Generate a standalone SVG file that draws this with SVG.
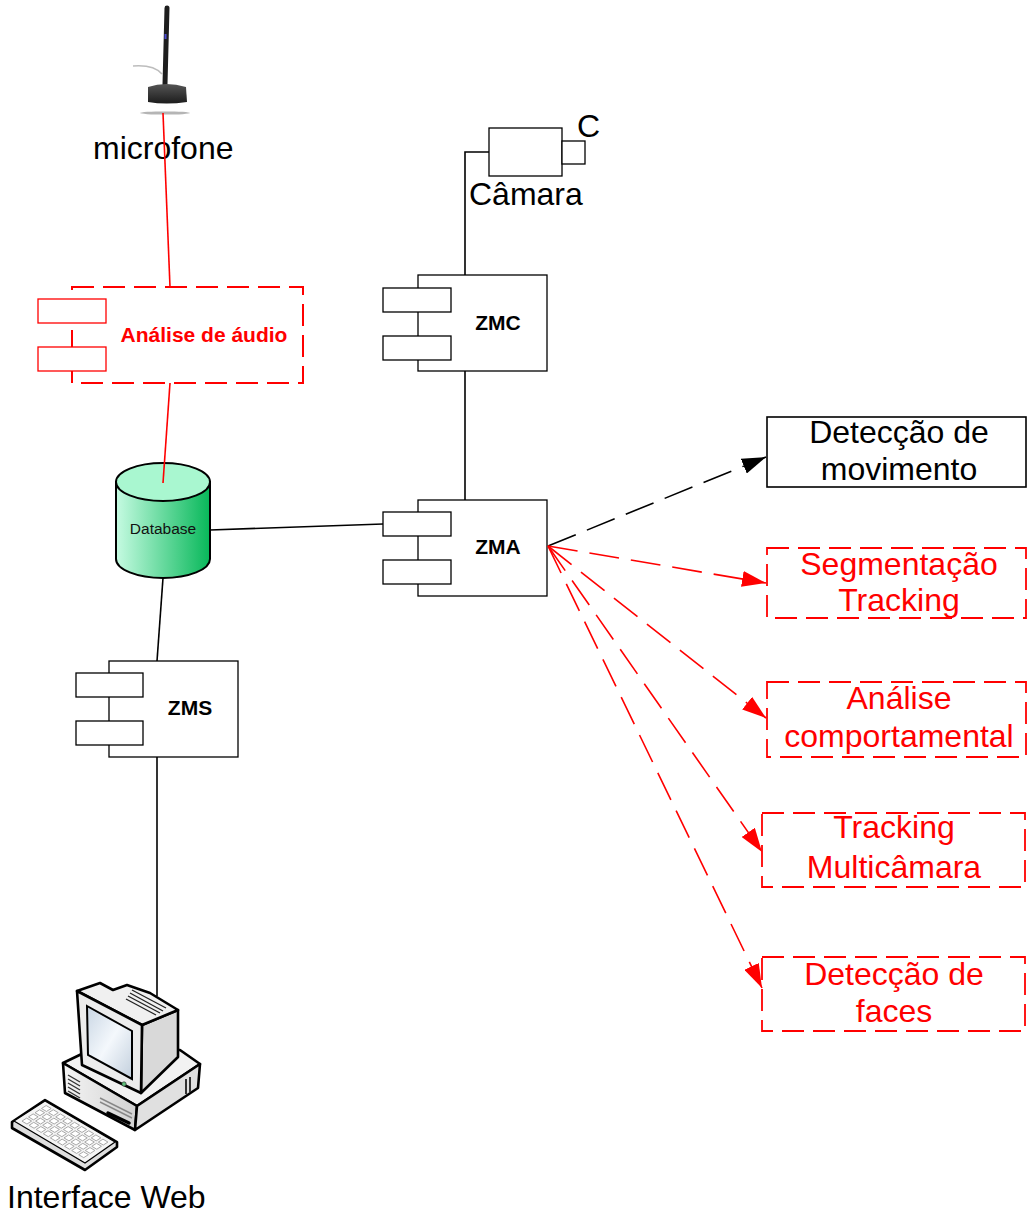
<svg xmlns="http://www.w3.org/2000/svg" width="1027" height="1216" viewBox="0 0 1027 1216">
  <style>
    .comp { fill: #ffffff; stroke: #000000; stroke-width: 1.3; }
    .comp-red { fill: #ffffff; stroke: #ff0000; stroke-width: 1.3; }
    .comp-red-main { fill: #ffffff; stroke: #ff0000; stroke-width: 2; stroke-dasharray: 22 9; }
    .tag { font-family: "Liberation Sans", Arial, sans-serif; font-weight: bold; font-size: 21px; text-anchor: middle; fill: #000000; }
    .big { font-family: "Liberation Sans", Arial, sans-serif; font-size: 32px; fill: #000000; }
    .mid { text-anchor: middle; }
    .red { fill: #ff0000; }
    .task { fill: #ffffff; stroke: #000000; stroke-width: 1.6; }
    .task-red { fill: none; stroke: #ff0000; stroke-width: 1.8; stroke-dasharray: 22 9; }
    .wire { fill: none; stroke: #000000; stroke-width: 1.6; }
    .wire-red { fill: none; stroke: #ff0000; stroke-width: 1.6; }
    .flow { fill: none; stroke: #000000; stroke-width: 1.6; stroke-dasharray: 30 12; }
    .flow-red { fill: none; stroke: #ff0000; stroke-width: 1.6; stroke-dasharray: 30 12; }
    .pc { stroke: #000000; stroke-width: 2.6; stroke-linejoin: round; }
    .key { fill: #ffffff; stroke: #a8a8a8; stroke-width: 1; }
  </style>
  <defs>
    <marker id="ah-black" viewBox="0 0 24 16" refX="24" refY="8" markerWidth="24" markerHeight="16" markerUnits="userSpaceOnUse" orient="auto">
      <path d="M0,0 L24,8 L0,16 z" fill="#000000"/>
    </marker>
    <marker id="ah-red" viewBox="0 0 24 16" refX="24" refY="8" markerWidth="24" markerHeight="16" markerUnits="userSpaceOnUse" orient="auto">
      <path d="M0,0 L24,8 L0,16 z" fill="#ff0000"/>
    </marker>
    <linearGradient id="dbBody" x1="0" y1="0" x2="1" y2="0">
      <stop offset="0" stop-color="#c6fbe2"/>
      <stop offset="1" stop-color="#08b85a"/>
    </linearGradient>
    <linearGradient id="screen" x1="0" y1="0" x2="1" y2="1">
      <stop offset="0" stop-color="#c9d6e4"/>
      <stop offset="0.5" stop-color="#f4f8fc"/>
      <stop offset="1" stop-color="#c2cfdd"/>
    </linearGradient>
    <linearGradient id="case" x1="0" y1="0" x2="1" y2="0">
      <stop offset="0" stop-color="#f4f4f4"/>
      <stop offset="1" stop-color="#d2d2d2"/>
    </linearGradient>
    <linearGradient id="micBase" x1="0" y1="0" x2="0" y2="1">
      <stop offset="0" stop-color="#555555"/>
      <stop offset="1" stop-color="#1c1c1c"/>
    </linearGradient>
    <rect id="kb-key" class="key" width="7" height="15" vector-effect="non-scaling-stroke"/>
  </defs>

  <!-- microphone -->
  <g id="microfone">
    <path d="M133,66 C146,65 156,67 162,74" fill="none" stroke="#bdbdbd" stroke-width="1.5"/>
    <line x1="167" y1="8" x2="165" y2="84" stroke="#1e1e1e" stroke-width="5" stroke-linecap="round"/>
    <rect x="164.5" y="34" width="2" height="5" fill="#4a4ad0"/>
    <path d="M148,87 Q166,81 186,87 L187,102 Q166,105 148,102 Z" fill="url(#micBase)"/>
    <ellipse cx="165" cy="113" rx="25" ry="1.6" fill="#b5b5b5"/>
    <text class="big" x="93" y="159">microfone</text>
  </g>

  <!-- camera -->
  <g id="camara">
    <rect class="comp" x="489" y="128" width="73" height="48"/>
    <rect class="comp" x="562" y="141" width="23" height="23"/>
    <text class="big" x="577" y="137">C</text>
    <text class="big" x="469" y="205">Câmara</text>
  </g>

  <!-- audio analysis component -->
  <g id="analise-audio">
    <rect class="comp-red-main" x="72" y="287" width="231" height="96"/>
    <rect class="comp-red" x="38" y="299" width="68" height="24"/>
    <rect class="comp-red" x="38" y="347" width="68" height="24"/>
    <text class="tag red" x="204" y="342" font-size="22">Análise de áudio</text>
  </g>

  <!-- ZMC component -->
  <g id="zmc">
    <rect class="comp" x="418" y="275" width="129" height="96"/>
    <rect class="comp" x="383" y="288" width="68" height="24"/>
    <rect class="comp" x="383" y="336" width="68" height="24"/>
    <text class="tag" x="498" y="330">ZMC</text>
  </g>

  <!-- ZMA component -->
  <g id="zma">
    <rect class="comp" x="418" y="500" width="129" height="96"/>
    <rect class="comp" x="383" y="512" width="68" height="24"/>
    <rect class="comp" x="383" y="560" width="68" height="24"/>
    <text class="tag" x="498" y="554">ZMA</text>
  </g>

  <!-- database -->
  <g id="database">
    <path d="M116,482 L116,559 A47,19 0 0 0 210,559 L210,482 Z" fill="url(#dbBody)" stroke="#000000" stroke-width="2"/>
    <ellipse cx="163" cy="482" rx="47" ry="19" fill="#a9f7d0" stroke="#000000" stroke-width="2"/>
    <text x="163" y="534" font-family="Liberation Sans, Arial, sans-serif" font-size="15.5" text-anchor="middle" fill="#111111">Database</text>
  </g>

  <!-- ZMS component -->
  <g id="zms">
    <rect class="comp" x="109" y="661" width="129" height="96"/>
    <rect class="comp" x="76" y="673" width="67" height="24"/>
    <rect class="comp" x="76" y="721" width="67" height="24"/>
    <text class="tag" x="190" y="715">ZMS</text>
  </g>

  <!-- web client workstation -->
  <g id="interface-web">
    <!-- base unit -->
    <polygon class="pc" points="63,1063 92,1049 180,1050 200,1064 137,1106" fill="#f2f2f2"/>
    <polygon class="pc" points="63,1063 137,1106 135,1130 65,1093" fill="url(#case)"/>
    <polygon class="pc" points="137,1106 200,1064 198,1088 135,1130" fill="#e0e0e0"/>
    <g stroke="#333333" stroke-width="1.4">
      <line x1="68" y1="1075" x2="80" y2="1082"/>
      <line x1="68" y1="1079" x2="80" y2="1086"/>
      <line x1="68" y1="1083" x2="80" y2="1090"/>
      <line x1="68" y1="1087" x2="80" y2="1094"/>
      <line x1="68" y1="1091" x2="80" y2="1098"/>
      <line x1="100" y1="1098" x2="132" y2="1114" stroke="#888888"/>
      <line x1="100" y1="1102" x2="132" y2="1118" stroke="#888888"/>
      <line x1="186" y1="1079" x2="186" y2="1094" stroke-width="2"/>
      <line x1="190" y1="1077" x2="190" y2="1092" stroke-width="2"/>
    </g>
    <line x1="108" y1="1113" x2="129" y2="1123" stroke="#000000" stroke-width="3.5" stroke-linecap="round"/>
    <!-- monitor -->
    <polygon class="pc" points="142,1025 178,1010 178,1057 141,1093" fill="#d9d9d9"/>
    <polygon class="pc" points="77,991 100,983 113,990 127,985 150,993 178,1010 142,1025" fill="#f0f0f0"/>
    <polygon class="pc" points="77,991 142,1025 141,1093 82,1065" fill="#ececec"/>
    <polygon points="87,1006 132,1031 132,1079 88,1055" fill="url(#screen)" stroke="#000000" stroke-width="2"/>
    <circle cx="124" cy="1084" r="2.2" fill="#5fc07a" stroke="#222222" stroke-width="0.6"/>
    <g stroke="#222222" stroke-width="1.3">
      <line x1="132" y1="990" x2="166" y2="1008"/>
      <line x1="130" y1="993" x2="163" y2="1011"/>
      <line x1="128" y1="996" x2="160" y2="1013"/>
      <line x1="126" y1="999" x2="156" y2="1015"/>
    </g>
    <!-- keyboard -->
    <polygon class="pc" points="12,1122 45,1100 117,1142 117,1147 85,1170 12,1128" fill="#dedede"/>
    <polygon points="14,1121 45,1101 115,1142 85,1163" fill="#f5f5f5" stroke="#000000" stroke-width="1.2"/>
    <g transform="matrix(0.71 0.42 0.31 -0.2 14 1121)">
      <use href="#kb-key" x="6" y="12"/><use href="#kb-key" x="16" y="12"/><use href="#kb-key" x="26" y="12"/>
      <use href="#kb-key" x="36" y="12"/><use href="#kb-key" x="46" y="12"/><use href="#kb-key" x="56" y="12"/>
      <use href="#kb-key" x="66" y="12"/><use href="#kb-key" x="76" y="12"/><use href="#kb-key" x="86" y="12"/>
      <use href="#kb-key" x="6" y="33"/><use href="#kb-key" x="16" y="33"/><use href="#kb-key" x="26" y="33"/>
      <use href="#kb-key" x="36" y="33"/><use href="#kb-key" x="46" y="33"/><use href="#kb-key" x="56" y="33"/>
      <use href="#kb-key" x="66" y="33"/><use href="#kb-key" x="76" y="33"/><use href="#kb-key" x="86" y="33"/>
      <use href="#kb-key" x="6" y="54"/><use href="#kb-key" x="16" y="54"/><use href="#kb-key" x="26" y="54"/>
      <use href="#kb-key" x="36" y="54"/><use href="#kb-key" x="46" y="54"/><use href="#kb-key" x="56" y="54"/>
      <use href="#kb-key" x="66" y="54"/><use href="#kb-key" x="76" y="54"/><use href="#kb-key" x="86" y="54"/>
      <use href="#kb-key" x="6" y="75"/><use href="#kb-key" x="16" y="75"/><use href="#kb-key" x="26" y="75"/>
      <use href="#kb-key" x="36" y="75"/><use href="#kb-key" x="46" y="75"/><use href="#kb-key" x="56" y="75"/>
      <use href="#kb-key" x="66" y="75"/><use href="#kb-key" x="76" y="75"/><use href="#kb-key" x="86" y="75"/>
    </g>
    <text class="big" x="7" y="1208">Interface Web</text>
  </g>

  <!-- analysis tasks -->
  <g id="deteccao-movimento">
    <rect class="task" x="767" y="417" width="259" height="70"/>
    <text class="big mid" x="899" y="443">Detecção de</text>
    <text class="big mid" x="899" y="480">movimento</text>
  </g>
  <g id="segmentacao-tracking">
    <rect class="task-red" x="767" y="548" width="259" height="70"/>
    <text class="big mid red" x="899" y="575">Segmentação</text>
    <text class="big mid red" x="899" y="611">Tracking</text>
  </g>
  <g id="analise-comportamental">
    <rect class="task-red" x="767" y="682" width="259" height="75"/>
    <text class="big mid red" x="899" y="709">Análise</text>
    <text class="big mid red" x="899" y="747">comportamental</text>
  </g>
  <g id="tracking-multicamara">
    <rect class="task-red" x="762" y="813" width="263" height="74"/>
    <text class="big mid red" x="894" y="838">Tracking</text>
    <text class="big mid red" x="894" y="878">Multicâmara</text>
  </g>
  <g id="deteccao-faces">
    <rect class="task-red" x="762" y="957" width="263" height="74"/>
    <text class="big mid red" x="894" y="985">Detecção de</text>
    <text class="big mid red" x="894" y="1022">faces</text>
  </g>

  <!-- connectors -->
  <g id="connectors">
    <polyline class="wire" points="489,152 465,152 465,275"/>
    <line class="wire" x1="465" y1="371" x2="465" y2="500"/>
    <line class="wire" x1="210" y1="530" x2="383" y2="524"/>
    <line class="wire" x1="163" y1="578" x2="157" y2="661"/>
    <line class="wire" x1="157" y1="757" x2="157" y2="996"/>
    <line class="wire-red" x1="163" y1="113" x2="170" y2="287"/>
    <line class="wire-red" x1="170" y1="383" x2="163" y2="483"/>
    <line class="flow" x1="548" y1="546" x2="766" y2="457" marker-end="url(#ah-black)"/>
    <line class="flow-red" x1="548" y1="546" x2="766" y2="583" marker-end="url(#ah-red)"/>
    <line class="flow-red" x1="548" y1="546" x2="766" y2="718" marker-end="url(#ah-red)"/>
    <line class="flow-red" x1="548" y1="546" x2="762" y2="852" marker-end="url(#ah-red)"/>
    <line class="flow-red" x1="548" y1="546" x2="762" y2="988" marker-end="url(#ah-red)"/>
  </g>
</svg>
